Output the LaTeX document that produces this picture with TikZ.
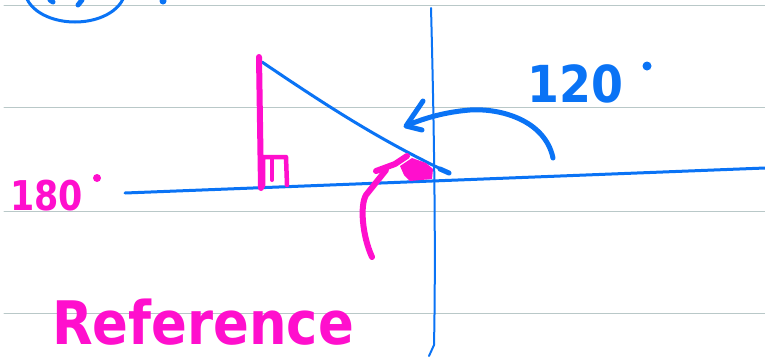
\documentclass[tikz,border=0pt]{standalone}
\usepackage{fontspec}
\setmainfont{DejaVu Sans}
\definecolor{penblue}{RGB}{10,115,245}
\definecolor{penpink}{RGB}{255,15,205}
\definecolor{rulegray}{RGB}{185,200,200}
\begin{document}
\begin{tikzpicture}[x=1pt,y=-1pt, line cap=round, line join=round,
  ruleline/.style={draw=rulegray, line width=1pt},
  bluethin/.style={draw=penblue, line width=2pt},
  bluepen/.style={draw=penblue, line width=3pt},
  bluethick/.style={draw=penblue, line width=5pt},
  pinkpen/.style={draw=penpink, line width=6pt},
  lbl/.style={inner sep=0pt, anchor=base west}]
\useasboundingbox (0,0) rectangle (765,360);
\fill[white] (0,0) rectangle (765,360);
\begin{scope}
\clip (0,0) rectangle (765,360);
% ruled lines
\foreach \yy in {5,107,211,313} \draw[ruleline] (4,\yy) -- (765,\yy);
% top-left circle fragment
\draw[bluepen] (75,-10) ellipse [x radius=50, y radius=32];
\draw[bluethick] (50,0) -- (53,2);
\draw[bluethick] (78,5) -- (82,0);
\fill[penblue] (163,1) circle (3.5);
% axes
\draw[bluethin] (431,8) .. controls (434,120) and (436,250) .. (434,345) -- (429,356);
\draw[bluepen] (125,193) -- (765,168);
% hypotenuse
\draw[bluepen] (262,62) .. controls (330,108) and (380,140) .. (447,172);
\draw[penblue, line width=5pt] (440,169) -- (449,173);
% 120 arrow
\draw[bluethick] (553,158) .. controls (545,120) and (500,108) .. (470,110)
  .. controls (445,112) and (425,118) .. (408,125);
\draw[bluethick] (423,101) -- (406,126) -- (422,130);
\node[lbl, text=penblue, font=\fontsize{51}{51}\selectfont\bfseries] (t120) at (527,102) {\scalebox{0.9}[1]{120}};
\fill[penblue] (647,66) circle (4.5);
% pink vertical leg and right-angle box
\draw[pinkpen] (259,57) -- (261,188);
\draw[penpink, line width=4.5pt] (263,186) -- (263,157) -- (286,157) -- (287,185);
\draw[penpink, line width=4pt] (272,158) -- (272,180);
% angle mark
\fill[penpink] (400,166) -- (412,158) -- (426,163) -- (433,169) -- (432,179) -- (410,181) -- (404,175) -- cycle;
\draw[pinkpen] (376,171) -- (395,164) -- (407,156);
\draw[pinkpen] (372,257) .. controls (362,235) and (360,205) .. (366,195) -- (386,170);
% labels
\node[lbl, text=penpink, font=\fontsize{41}{41}\selectfont\bfseries] (t180) at (10,210) {\scalebox{0.85}[1]{180}};
\fill[penpink] (97,178) circle (4);
\node[lbl, text=penpink, font=\fontsize{60}{60}\selectfont\bfseries] (tref) at (52,344) {\scalebox{0.88}[1]{Reference}};
\end{scope}
\end{tikzpicture}
\end{document}
